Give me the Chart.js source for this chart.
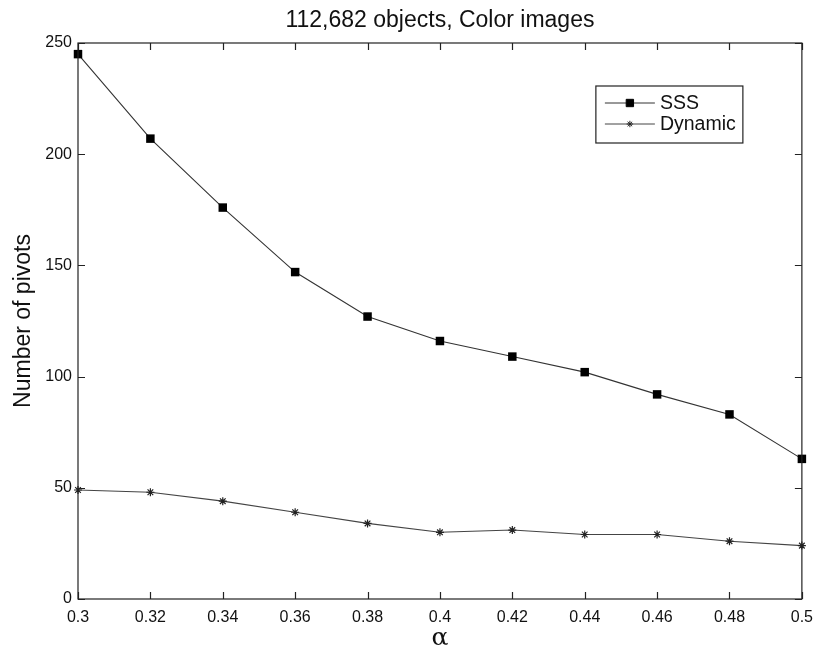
<!DOCTYPE html>
<html lang="en">
<head>
  <meta charset="UTF-8" />
  <title>112,682 objects, Color images</title>
  <script src="https://cdn.jsdelivr.net/npm/chart.js"></script>
  <style>
    body {
      margin: 0;
      padding: 0;
      background: #ffffff;
    }
    .wrap {
      width: 822px;
      height: 648px;
    }
  </style>
</head>
<body>
  <div class="wrap">
    <canvas id="pivotChart" width="822" height="648"></canvas>
  </div>

  <script>
    // data
    const alphas = [0.3, 0.32, 0.34, 0.36, 0.38, 0.4, 0.42, 0.44, 0.46, 0.48, 0.5];
    const sssPivots = [245, 207, 176, 147, 127, 116, 109, 102, 92, 83, 63];
    const dynamicPivots = [49, 48, 44, 39, 34, 30, 31, 29, 29, 26, 24];
    const seriesNames = ['SSS', 'Dynamic'];
    const xTicks = [0.3, 0.32, 0.34, 0.36, 0.38, 0.4, 0.42, 0.44, 0.46, 0.48, 0.5];
    const yTicks = [0, 50, 100, 150, 200, 250];

    const FONT = "'Liberation Sans', Arial, Helvetica, sans-serif";
    const INK = '#222';

    function toPoints(xs, ys) {
      return xs.map((x, i) => ({ x: x, y: ys[i] }));
    }

    // matlab style box with inward ticks on all four sides
    const boxPlugin = {
      id: 'boxTicks',
      afterDatasetsDraw(chart) {
        const { ctx, chartArea: a, scales } = chart;
        const len = 7;
        ctx.save();
        ctx.strokeStyle = INK;
        ctx.lineWidth = 1.2;
        ctx.strokeRect(a.left, a.top, a.right - a.left, a.bottom - a.top);
        ctx.beginPath();
        xTicks.forEach(v => {
          const px = Math.round(scales.x.getPixelForValue(v)) + 0.5;
          ctx.moveTo(px, a.bottom); ctx.lineTo(px, a.bottom - len);
          ctx.moveTo(px, a.top); ctx.lineTo(px, a.top + len);
        });
        yTicks.forEach(v => {
          const py = Math.round(scales.y.getPixelForValue(v)) + 0.5;
          ctx.moveTo(a.left, py); ctx.lineTo(a.left + len, py);
          ctx.moveTo(a.right, py); ctx.lineTo(a.right - len, py);
        });
        ctx.stroke();
        ctx.restore();
      }
    };

    // boxed legend with line + marker samples
    const legendPlugin = {
      id: 'boxLegend',
      afterDraw(chart) {
        const { ctx, chartArea: a } = chart;
        const x0 = a.right - 59, x1 = x0 - 147;
        const top = a.top + 43, h = 57;
        ctx.save();
        ctx.fillStyle = '#fff';
        ctx.fillRect(x1, top, x0 - x1, h);
        ctx.strokeStyle = INK;
        ctx.lineWidth = 1.2;
        ctx.strokeRect(x1, top, x0 - x1, h);
        chart.data.datasets.forEach((ds, i) => {
          const y = top + 17 + i * 21;
          ctx.strokeStyle = ds.borderColor;
          ctx.lineWidth = 1;
          ctx.beginPath();
          ctx.moveTo(x1 + 9, y); ctx.lineTo(x1 + 59, y);
          ctx.stroke();
          ctx.fillStyle = ds.pointBackgroundColor;
          ctx.strokeStyle = ds.pointBorderColor;
          Chart.helpers.drawPoint(ctx, {
            pointStyle: ds.pointStyle,
            radius: ds.pointRadius - 0.8,
            rotation: 0,
            borderWidth: 1
          }, x1 + 34, y);
          ctx.fillStyle = '#111';
          ctx.font = '19.5px ' + FONT;
          ctx.textAlign = 'left';
          ctx.textBaseline = 'middle';
          ctx.fillText(ds.label, x1 + 64, y + 1);
        });
        ctx.restore();
      }
    };

    new Chart(document.getElementById('pivotChart').getContext('2d'), {
      type: 'line',
      data: {
        datasets: [{
          label: seriesNames[0],
          data: toPoints(alphas, sssPivots),
          clip: false,
          borderColor: '#333',
          borderWidth: 1.1,
          pointStyle: 'rect',
          pointRadius: 6,
          pointBackgroundColor: '#000',
          pointBorderColor: '#000',
          pointBorderWidth: 0
        }, {
          label: seriesNames[1],
          data: toPoints(alphas, dynamicPivots),
          clip: false,
          borderColor: '#444',
          borderWidth: 1.1,
          pointStyle: 'star',
          pointRadius: 4,
          pointBackgroundColor: '#000',
          pointBorderColor: '#222',
          pointBorderWidth: 1.2
        }]
      },
      options: {
        responsive: false,
        animation: false,
        layout: { padding: { left: 0, right: 17, top: 0, bottom: 0 } },
        plugins: {
          legend: { display: false },
          tooltip: { enabled: false },
          title: { display: false }
        },
        scales: {
          // top axis only carries the title so it centres over the plot box
          top: {
            type: 'linear',
            position: 'top',
            min: 0.3,
            max: 0.5,
            afterFit(scale) { scale.height = 43; },
            grid: { display: false, drawTicks: false },
            border: { display: false },
            ticks: { display: false },
            title: {
              display: true,
              text: '112,682 objects, Color images',
              color: '#111',
              font: { family: FONT, size: 23, weight: 'normal', lineHeight: 1.2 },
              padding: { top: 7, bottom: 0 }
            }
          },
          x: {
            type: 'linear',
            min: 0.3,
            max: 0.5,
            afterBuildTicks(scale) {
              scale.ticks = xTicks.map(v => ({ value: v }));
            },
            afterFit(scale) { scale.height = 49; },
            grid: { display: false, drawTicks: false },
            border: { display: false },
            ticks: {
              color: '#111',
              padding: 9,
              maxRotation: 0,
              font: { family: FONT, size: 16 },
              callback: v => String(Number(v.toFixed(2)))
            },
            title: {
              display: true,
              text: 'α',
              color: '#111',
              font: { family: "'DejaVu Serif', serif", size: 25, lineHeight: 0.8 },
              padding: { top: 0, bottom: 0 }
            }
          },
          y: {
            min: 0,
            max: 250,
            afterBuildTicks(scale) {
              scale.ticks = yTicks.map(v => ({ value: v }));
            },
            afterFit(scale) { scale.width = 78; },
            grid: { display: false, drawTicks: false },
            border: { display: false },
            ticks: {
              color: '#111',
              padding: 6,
              font: { family: FONT, size: 16 }
            },
            title: {
              display: true,
              text: 'Number of pivots',
              color: '#111',
              font: { family: FONT, size: 23, lineHeight: 1.2 },
              padding: { top: 10, bottom: 0 }
            }
          }
        }
      },
      plugins: [boxPlugin, legendPlugin]
    });
  </script>
</body>
</html>
